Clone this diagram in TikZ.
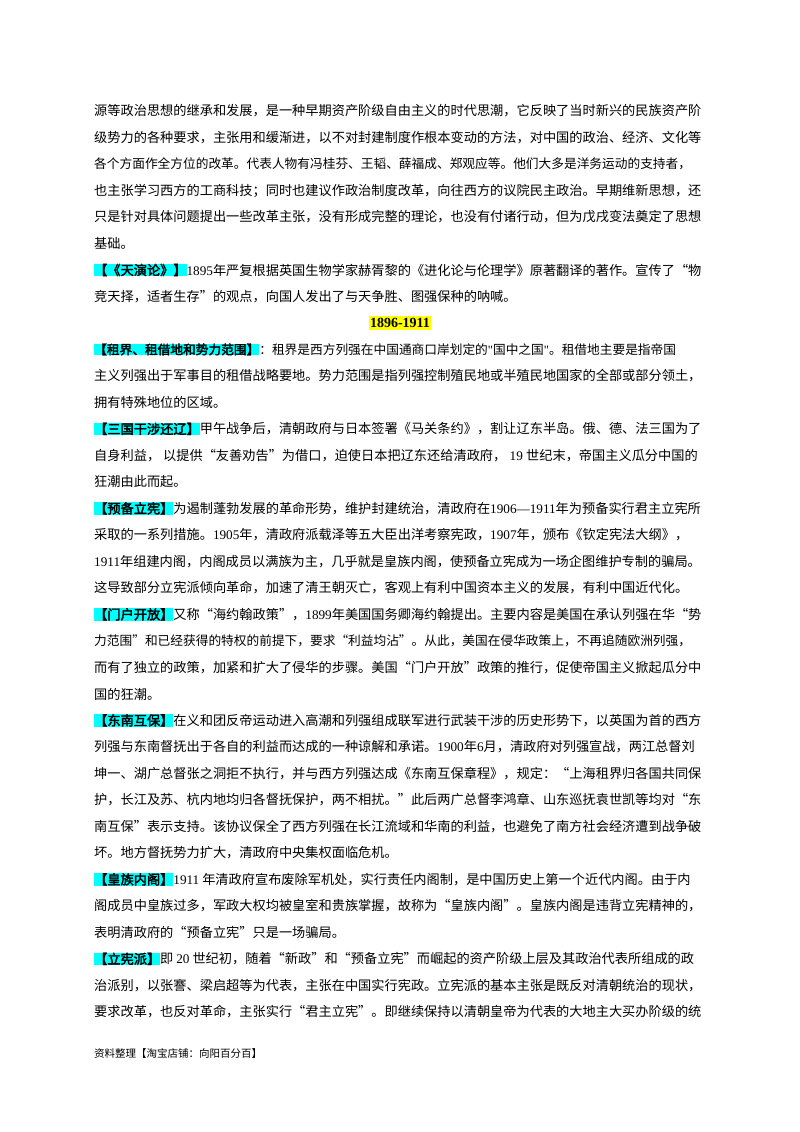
\documentclass[tikz,border=0pt]{standalone}
\usepackage{fontspec}
\setmainfont{Noto Sans CJK SC}[AutoFakeBold=2.5]
\newfontfamily\tm{Liberation Serif}
\definecolor{hlc}{HTML}{00FFFF}
\definecolor{hly}{HTML}{FFFF00}
\XeTeXlinebreaklocale "zh"
\XeTeXlinebreakskip=0pt plus 3pt
\newcommand\hl[1]{{\setlength\fboxsep{0pt}\colorbox{hlc}{\bfseries #1}}}
\newcommand\Yy[1]{\fpeval{-(111+26.5*#1)}}
\newcommand\Jl[3]{\node[jline] (#1) at (94,\Yy{#2}) {\parfillskip=0pt\relax #3};}
\newcommand\Jt[3]{\node[jline,font=\fontsize{12.7}{18}\selectfont] (#1) at (94,\Yy{#2}) {\parfillskip=0pt\relax #3};}
\newcommand\Rl[3]{\node[rline] (#1) at (94,\Yy{#2}) {#3};}
\begin{document}
\begin{tikzpicture}[x=1pt,y=1pt,
  jline/.style={anchor=west,inner sep=0pt,text width=618pt,align=justify,font=\fontsize{13.2}{18}\selectfont},
  rline/.style={anchor=west,inner sep=0pt,font=\fontsize{13.2}{18}\selectfont}]
\fill[white] (0,0) rectangle (800,-1132);
\Jl{l0}{0}{源等政治思想的继承和发展，是一种早期资产阶级自由主义的时代思潮，它反映了当时新兴的民族资产阶}
\Jl{l1}{1}{级势力的各种要求，主张用和缓渐进，以不对封建制度作根本变动的方法，对中国的政治、经济、文化等}
\Jt{l2}{2}{各个方面作全方位的改革。代表人物有冯桂芬、王韬、薛福成、郑观应等。他们大多是洋务运动的支持者，}
\Jl{l3}{3}{也主张学习西方的工商科技；同时也建议作政治制度改革，向往西方的议院民主政治。早期维新思想，还}
\Jl{l4}{4}{只是针对具体问题提出一些改革主张，没有形成完整的理论，也没有付诸行动，但为戊戌变法奠定了思想}
\Rl{l5}{5}{基础。}
\Jl{l6}{6}{\hl{【《天演论》】}{\tm 1895}年严复根据英国生物学家赫胥黎的《进化论与伦理学》原著翻译的著作。宣传了“物}
\Rl{l7}{7}{竞天择，适者生存”的观点，向国人发出了与天争胜、图强保种的呐喊。}
\node[inner xsep=1pt,inner ysep=2pt,fill=hly,font=\fontsize{14}{16}\selectfont\tm\bfseries] (yr) at (400,\Yy{8}) {1896-1911};
\Jt{l9}{9}{\hl{【租界、租借地和势力范围】}：租界是西方列强在中国通商口岸划定的{\tm"}国中之国{\tm"}。租借地主要是指帝国}
\Jl{l10}{10}{主义列强出于军事目的租借战略要地。势力范围是指列强控制殖民地或半殖民地国家的全部或部分领土，}
\Rl{l11}{11}{拥有特殊地位的区域。}
\Jl{l12}{12}{\hl{【三国干涉还辽】}甲午战争后，清朝政府与日本签署《马关条约》，割让辽东半岛。俄、德、法三国为了}
\Jl{l13}{13}{自身利益，\ 以提供“友善劝告”为借口，迫使日本把辽东还给清政府，{\tm\ 19\ }世纪末，帝国主义瓜分中国的}
\Rl{l14}{14}{狂潮由此而起。}
\Jl{l15}{15}{\hl{【预备立宪】}为遏制蓬勃发展的革命形势，维护封建统治，清政府在{\tm 1906—1911}年为预备实行君主立宪所}
\Jl{l16}{16}{采取的一系列措施。{\tm 1905}年，清政府派载泽等五大臣出洋考察宪政，{\tm 1907}年，颁布《钦定宪法大纲》，}
\Jl{l17}{17}{{\tm 1911}年组建内阁，内阁成员以满族为主，几乎就是皇族内阁，使预备立宪成为一场企图维护专制的骗局。}
\Rl{l18}{18}{这导致部分立宪派倾向革命，加速了清王朝灭亡，客观上有利中国资本主义的发展，有利中国近代化。}
\Jl{l19}{19}{\hl{【门户开放】}又称“海约翰政策”，{\tm 1899}年美国国务卿海约翰提出。主要内容是美国在承认列强在华“势}
\Jt{l20}{20}{力范围”和已经获得的特权的前提下，要求“利益均沾”。从此，美国在侵华政策上，不再追随欧洲列强，}
\Jl{l21}{21}{而有了独立的政策，加紧和扩大了侵华的步骤。美国“门户开放”政策的推行，促使帝国主义掀起瓜分中}
\Rl{l22}{22}{国的狂潮。}
\Jl{l23}{23}{\hl{【东南互保】}在义和团反帝运动进入高潮和列强组成联军进行武装干涉的历史形势下，以英国为首的西方}
\Jl{l24}{24}{列强与东南督抚出于各自的利益而达成的一种谅解和承诺。{\tm 1900}年{\tm 6}月，清政府对列强宣战，两江总督刘}
\Jl{l25}{25}{坤一、湖广总督张之洞拒不执行，并与西方列强达成《东南互保章程》，规定：“上海租界归各国共同保}
\Jl{l26}{26}{护，长江及苏、杭内地均归各督抚保护，两不相扰。”此后两广总督李鸿章、山东巡抚袁世凯等均对“东}
\Jl{l27}{27}{南互保”表示支持。该协议保全了西方列强在长江流域和华南的利益，也避免了南方社会经济遭到战争破}
\Rl{l28}{28}{坏。地方督抚势力扩大，清政府中央集权面临危机。}
\Jl{l29}{29}{\hl{【皇族内阁】}{\tm 1911}\ 年清政府宣布废除军机处，实行责任内阁制，是中国历史上第一个近代内阁。由于内}
\Jl{l30}{30}{阁成员中皇族过多，军政大权均被皇室和贵族掌握，故称为“皇族内阁”。皇族内阁是违背立宪精神的，}
\Rl{l31}{31}{表明清政府的“预备立宪”只是一场骗局。}
\Jl{l32}{32}{\hl{【立宪派】}即\ {\tm 20}\ 世纪初，随着“新政”和“预备立宪”而崛起的资产阶级上层及其政治代表所组成的政}
\Jl{l33}{33}{治派别，以张謇、梁启超等为代表，主张在中国实行宪政。立宪派的基本主张是既反对清朝统治的现状，}
\Jl{l34}{34}{要求改革，也反对革命，主张实行“君主立宪”。即继续保持以清朝皇帝为代表的大地主大买办阶级的统}
\node[anchor=west,inner sep=0pt,font=\fontsize{10.5}{14}\selectfont] (foot) at (94,-1053) {资料整理【淘宝店铺：向阳百分百】};
\end{tikzpicture}
\end{document}
